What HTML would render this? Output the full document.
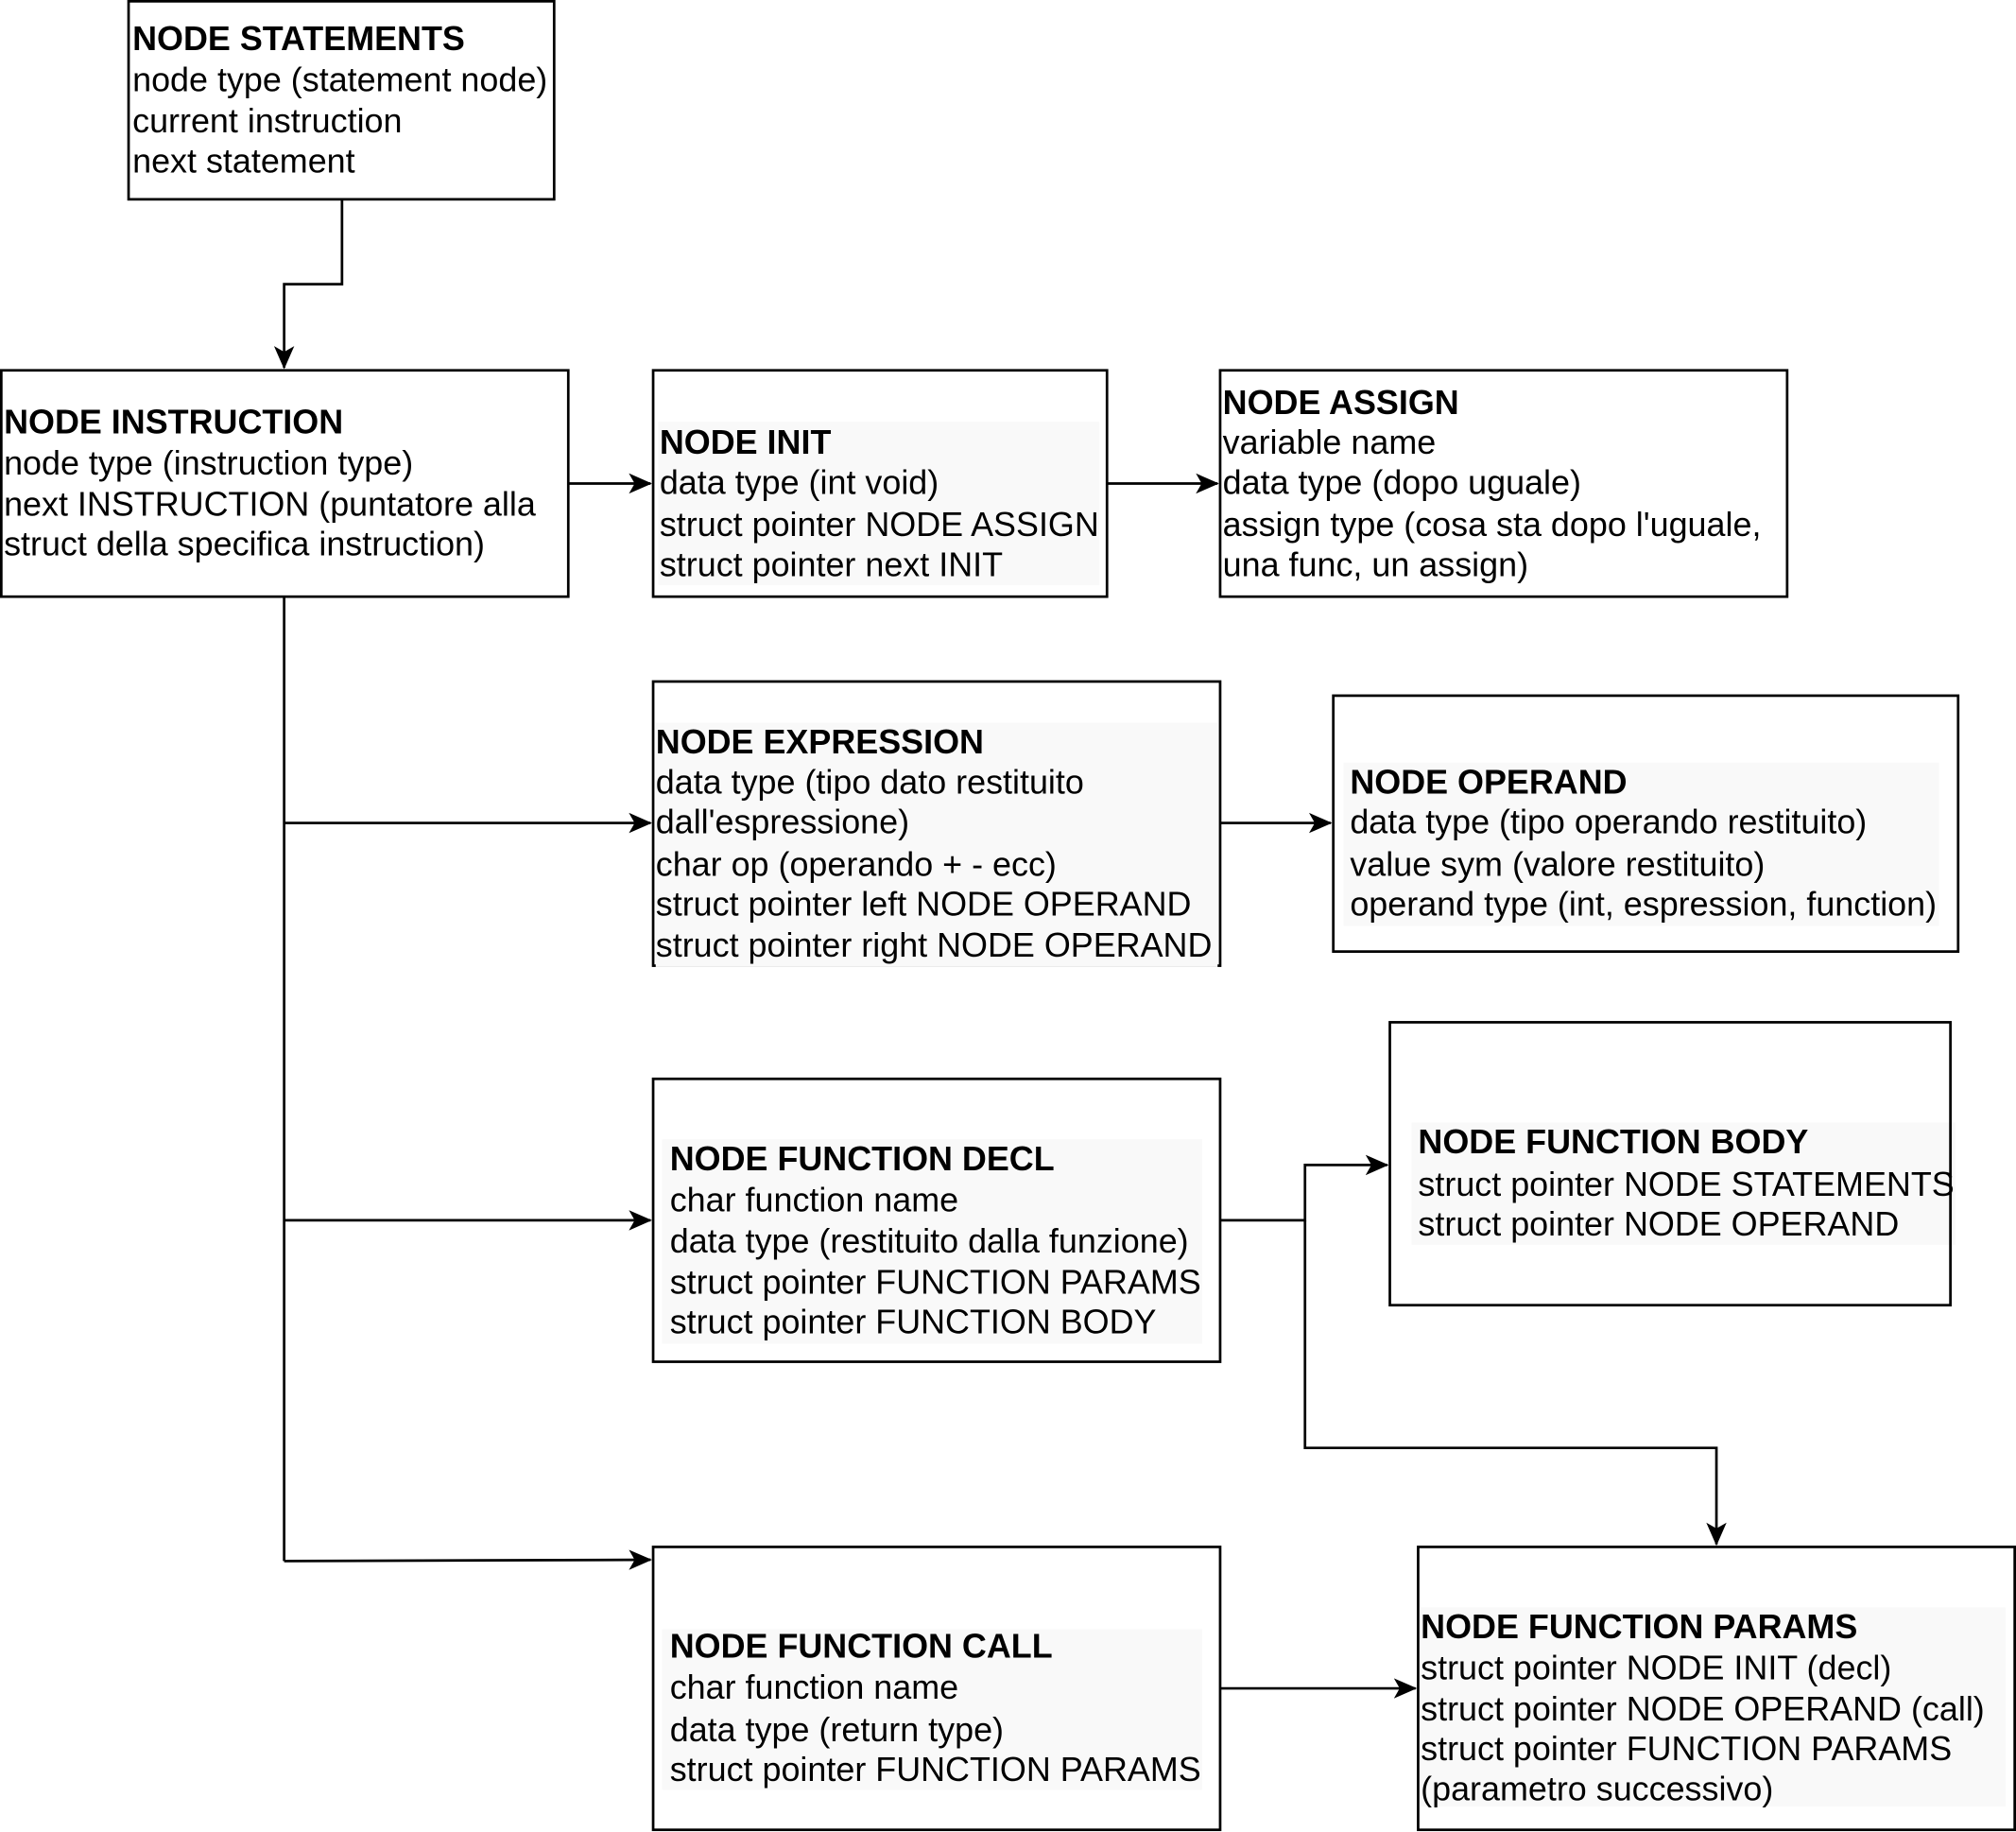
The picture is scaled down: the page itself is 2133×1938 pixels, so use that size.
<!DOCTYPE html>
<html><head><meta charset="utf-8"><style>
html,body{margin:0;padding:0;background:#fff;}
svg{display:block;}
text{font-family:"Liberation Sans",sans-serif;font-size:26.4px;fill:#000;}
.b{font-weight:bold;}
</style></head><body>
<svg width="2133" height="1938" viewBox="0 0 1568 1424.7" preserveAspectRatio="none" xmlns="http://www.w3.org/2000/svg">
<defs>
<marker id="m" viewBox="0 0 16 14" markerWidth="18" markerHeight="16" refX="15" refY="7" orient="auto" markerUnits="userSpaceOnUse">
<path d="M0,0 L16,7 L0,14 L4,7 Z" fill="#000"/>
</marker>
</defs>
<g fill="#f9f9f9">
<rect x="512" y="328" width="343" height="127"/>
<rect x="1045" y="593" width="463" height="127"/>
<rect x="515" y="886" width="420" height="159"/>
<rect x="1098" y="873" width="423" height="95"/>
<rect x="515" y="1267" width="420" height="125"/>
<rect x="1105" y="1250" width="455" height="155"/>
</g>
<g fill="none" stroke="#000" stroke-width="2">
<rect x="100" y="1" width="331" height="154"/>
<rect x="1" y="288" width="441" height="176"/>
<rect x="508" y="288" width="353" height="176"/>
<rect x="949" y="288" width="441" height="176"/>
<rect x="508" y="530" width="441" height="221"/>
<rect x="1037" y="541" width="486" height="199"/>
<rect x="508" y="839" width="441" height="220"/>
<rect x="1081" y="795" width="436" height="220"/>
<rect x="508" y="1203" width="441" height="220"/>
<rect x="1103" y="1203" width="464" height="220"/>
</g>
<rect x="510" y="562" width="437" height="190" fill="#f9f9f9"/>
<g fill="none" stroke="#000" stroke-width="2">
<path d="M266,155 V221 H221 V286" marker-end="url(#m)"/>
<path d="M442,376 H506" marker-end="url(#m)"/>
<path d="M861,376 H947" marker-end="url(#m)"/>
<path d="M221,464 V1214"/>
<path d="M221,640 H506" marker-end="url(#m)"/>
<path d="M221,949 H506" marker-end="url(#m)"/>
<path d="M221,1214 L506,1213" marker-end="url(#m)"/>
<path d="M949,640 H1035" marker-end="url(#m)"/>
<path d="M949,949 H1015 V906 H1079" marker-end="url(#m)"/>
<path d="M1015,949 V1126 H1335 V1201" marker-end="url(#m)"/>
<path d="M949,1313 H1101" marker-end="url(#m)"/>
</g>
<text x="103" y="39" class="b">NODE STATEMENTS</text>
<text x="103" y="71">node type (statement node)</text>
<text x="103" y="103">current instruction</text>
<text x="103" y="134">next statement</text>

<text x="3" y="337" class="b">NODE INSTRUCTION</text>
<text x="3" y="369">node type (instruction type)</text>
<text x="3" y="401">next INSTRUCTION (puntatore alla</text>
<text x="3" y="432">struct della specifica instruction)</text>

<text x="513" y="353" class="b">NODE INIT</text>
<text x="513" y="384">data type (int void)</text>
<text x="513" y="417">struct pointer NODE ASSIGN</text>
<text x="513" y="448">struct pointer next INIT</text>

<text x="951" y="322" class="b">NODE ASSIGN</text>
<text x="951" y="353">variable name</text>
<text x="951" y="384">data type (dopo uguale)</text>
<text x="951" y="417">assign type (cosa sta dopo l'uguale,</text>
<text x="951" y="448">una func, un assign)</text>

<text x="510" y="586" class="b">NODE EXPRESSION</text>
<text x="510" y="617">data type (tipo dato restituito</text>
<text x="510" y="648">dall'espressione)</text>
<text x="510" y="681">char op (operando + - ecc)</text>
<text x="510" y="712">struct pointer left NODE OPERAND</text>
<text x="510" y="744">struct pointer right NODE OPERAND</text>

<text x="1050" y="617" class="b">NODE OPERAND</text>
<text x="1050" y="648">data type (tipo operando restituito)</text>
<text x="1050" y="681">value sym (valore restituito)</text>
<text x="1050" y="712">operand type (int, espression, function)</text>

<text x="521" y="910" class="b">NODE FUNCTION DECL</text>
<text x="521" y="942">char function name</text>
<text x="521" y="974">data type (restituito dalla funzione)</text>
<text x="521" y="1006">struct pointer FUNCTION PARAMS</text>
<text x="521" y="1037">struct pointer FUNCTION BODY</text>

<text x="1103" y="897" class="b">NODE FUNCTION BODY</text>
<text x="1103" y="930">struct pointer NODE STATEMENTS</text>
<text x="1103" y="961">struct pointer NODE OPERAND</text>

<text x="521" y="1289" class="b">NODE FUNCTION CALL</text>
<text x="521" y="1321">char function name</text>
<text x="521" y="1354">data type (return type)</text>
<text x="521" y="1385">struct pointer FUNCTION PARAMS</text>

<text x="1105" y="1274" class="b">NODE FUNCTION PARAMS</text>
<text x="1105" y="1306">struct pointer NODE INIT (decl)</text>
<text x="1105" y="1338">struct pointer NODE OPERAND (call)</text>
<text x="1105" y="1369">struct pointer FUNCTION PARAMS</text>
<text x="1105" y="1400">(parametro successivo)</text>
</svg>
</body></html>
